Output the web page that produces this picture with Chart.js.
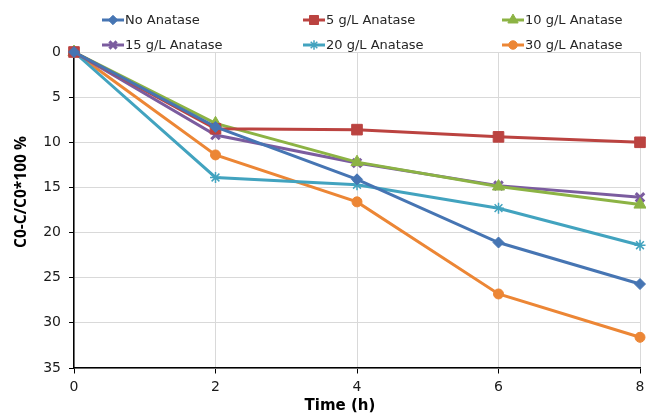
<!DOCTYPE html>
<html>
<head>
<meta charset="utf-8">
<script src="https://cdn.jsdelivr.net/npm/chart.js@4/dist/chart.umd.min.js"></script>
<style>
  html, body { margin: 0; padding: 0; background: #fff; }
  #wrap { width: 646px; height: 415px; position: relative; }
</style>
</head>
<body>
<div id="wrap"><canvas id="chart"></canvas></div>
<script>
const times = [0, 2, 4, 6, 8];
const seriesNames = ["No Anatase", "5 g/L Anatase", "10 g/L Anatase", "15 g/L Anatase", "20 g/L Anatase", "30 g/L Anatase"];
const noAnatase = [0, 8.3, 14.1, 21.1, 25.7];
const anatase5 = [0, 8.5, 8.6, 9.4, 10.0];
const anatase10 = [0, 7.9, 12.2, 14.9, 16.9];
const anatase15 = [0, 9.2, 12.3, 14.8, 16.1];
const anatase20 = [0, 13.9, 14.7, 17.3, 21.4];
const anatase30 = [0, 11.4, 16.6, 26.8, 31.6];
const yTicks = [0, 5, 10, 15, 20, 25, 30, 35];
const xTicks = [0, 2, 4, 6, 8];

const colors = ["#4675B3", "#BB4340", "#8CB344", "#7B5C9F", "#42A3BF", "#EC8635"];
const styles = ["rectRot", "rect", "triangle", "crossRot", "star", "circle"];
const radii = [5.5, 7.5, 7, 6, 5.5, 5];
const allValues = [noAnatase, anatase5, anatase10, anatase15, anatase20, anatase30];

const datasets = allValues.map((vals, i) => ({
  label: seriesNames[i],
  data: vals.map((v, j) => ({ x: times[j], y: v })),
  borderColor: colors[i],
  backgroundColor: colors[i],
  borderWidth: 3,
  pointStyle: styles[i],
  pointRadius: radii[i],
  pointBorderWidth: (styles[i] === "crossRot" ? 3 : (styles[i] === "star" ? 1.5 : 1)),
  pointBackgroundColor: colors[i],
  pointBorderColor: colors[i],
  tension: 0,
  clip: false
}));

// legend + axis titles drawn at fixed spots, like the original layout
const extras = {
  id: "extras",
  afterDraw(chart) {
    const ctx = chart.ctx;
    ctx.save();
    const cols = [102, 303, 502];
    const rows = [20, 45];
    ctx.font = "13px 'DejaVu Sans'";
    ctx.textBaseline = "middle";
    ctx.textAlign = "left";
    seriesNames.forEach((name, i) => {
      const x0 = cols[i % 3];
      const y0 = rows[Math.floor(i / 3)];
      ctx.strokeStyle = colors[i];
      ctx.fillStyle = colors[i];
      ctx.lineWidth = 3;
      ctx.beginPath();
      ctx.moveTo(x0, y0);
      ctx.lineTo(x0 + 22, y0);
      ctx.stroke();
      if (Chart.helpers && Chart.helpers.drawPoint) {
        ctx.lineWidth = datasets[i].pointBorderWidth;
        Chart.helpers.drawPoint(ctx, { pointStyle: styles[i], radius: radii[i] * 0.85, rotation: 0, borderWidth: datasets[i].pointBorderWidth }, x0 + 11, y0);
      }
      ctx.fillStyle = "#262626";
      ctx.fillText(name, x0 + 23, y0 + 1);
    });

    ctx.fillStyle = "#000";
    ctx.font = "bold 15px 'DejaVu Sans'";
    ctx.textAlign = "center";
    ctx.fillText("Time (h)", 340, 406);

    ctx.translate(22, 192);
    ctx.rotate(-Math.PI / 2);
    ctx.font = "bold 15.5px 'Open Sans'";
    ctx.fillText("C0-C/C0*100 %", 0, 0);
    ctx.restore();
  }
};

new Chart(document.getElementById("chart"), {
  type: "line",
  data: { datasets },
  options: {
    responsive: true,
    maintainAspectRatio: false,
    animation: false,
    layout: { autoPadding: false, padding: { top: 52, right: 6, left: 0, bottom: 0 } },
    plugins: {
      legend: { display: false },
      tooltip: { enabled: false }
    },
    scales: {
      x: {
        type: "linear",
        min: xTicks[0],
        max: xTicks[xTicks.length - 1],
        afterBuildTicks: (s) => { s.ticks = xTicks.map(v => ({ value: v })); },
        afterFit: (s) => { s.height = 47; },
        // long tick with a dash so only 5px shows, keeps label padding at 0
        grid: { color: "#d9d9d9", lineWidth: 1, tickColor: "#000", tickLength: 11, tickBorderDash: [5, 40] },
        border: { color: "#000", width: 1.5 },
        ticks: { color: "#1a1a1a", font: { family: "DejaVu Sans", size: 14 }, padding: 0, maxRotation: 0 }
      },
      y: {
        reverse: true,
        min: yTicks[0],
        max: yTicks[yTicks.length - 1],
        afterBuildTicks: (s) => { s.ticks = yTicks.map(v => ({ value: v })); },
        afterFit: (s) => { s.width = 74; },
        grid: { color: "#d9d9d9", lineWidth: 1, tickColor: "#000", tickLength: 5 },
        border: { color: "#000", width: 1.5 },
        ticks: { color: "#1a1a1a", font: { family: "DejaVu Sans", size: 14 }, padding: 8 }
      }
    }
  },
  plugins: [extras]
});
</script>
</body>
</html>
